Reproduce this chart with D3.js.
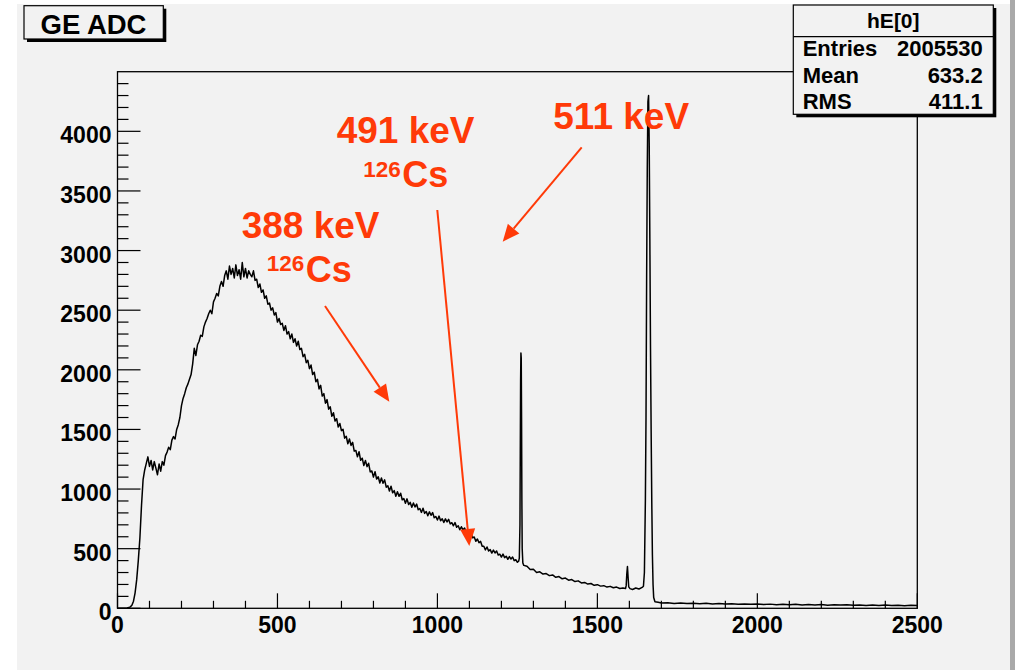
<!DOCTYPE html>
<html><head><meta charset="utf-8">
<script src="https://cdn.jsdelivr.net/npm/d3@7"></script>
<style>
body{margin:0;background:#fff;}
text{font-family:"Liberation Sans",Arial,Helvetica,sans-serif;font-weight:bold;}
</style></head>
<body><svg id="c" width="1015" height="670"></svg>
<script>
// ---- data ----
const adc = [
 0,5,10,15,20,25,30,35,40,45,50,55,60,65,70,75,80,
 85,90,95,100,105,110,115,120,125,130,135,140,145,150,155,160,165,170,175,180,185,190,195,200,
 205,210,215,220,225,230,235,240,245,250,255,260,265,270,275,280,285,290,295,300,
 305,310,315,320,325,330,335,340,345,350,355,360,365,370,375,380,385,390,395,400,
 405,410,415,420,425,430,435,440,445,450,455,460,465,470,475,480,485,490,495,500,
 505,510,515,520,525,530,535,540,545,550,555,560,565,570,575,580,585,590,595,600,
 605,610,615,620,625,630,635,640,645,650,655,660,665,670,675,680,685,690,695,700,
 705,710,715,720,725,730,735,740,745,750,755,760,765,770,775,780,785,790,795,800,
 805,810,815,820,825,830,835,840,845,850,855,860,865,870,875,880,885,890,895,900,
 905,910,915,920,925,930,935,940,945,950,955,960,965,970,975,980,985,990,995,1000,
 1005,1010,1015,1020,1025,1030,1035,1040,1045,1050,1055,1060,1065,1070,1075,1080,1085,1090,1095,1100,
 1105,1110,1115,1120,1125,1130,1135,1140,1145,1150,1155,1160,1165,1170,1175,1180,1185,1190,1195,1200,
 1205,1210,1215,1220,1225,1230,1235,1240,1245,1250,
 1254,1256,1258,1259,1260,1261,1262,1263,1264,1265,1267,1270,
 1280,1290,1300,1310,1320,1330,1340,1350,1360,1370,1380,1390,1400,1410,1420,1430,1440,1450,
 1460,1470,1480,1490,1500,1510,1520,1530,1540,1550,1560,1570,1580,1588,1590,1592,1594,1596,1598,
 1602,1610,1620,1630,1640,1644,1647,1650,1652,1654,1656,1658,1660,1662,1664,1666,1668,1670,
 1672,1674,1676,1680,1690,1700,1720,1740,1760,1780,1800,1820,1840,1860,1880,1900,1920,1940,
 1960,1980,2000,2020,2040,2060,2080,2100,2120,2140,2160,2180,2200,2220,2240,2260,2280,2300,
 2320,2340,2360,2380,2400,2420,2440,2460,2480,2500
];
const counts = [
 0,0,0,0,0,1,3,6,12,25,60,130,240,400,590,860,1080,
 1160,1215,1270,1190,1240,1160,1230,1175,1120,1210,1150,1230,1200,1280,1310,1350,1330,1410,1440,1420,1500,1540,1600,1700,
 1760,1800,1850,1880,1920,1960,2050,2180,2120,2210,2240,2290,2280,2360,2400,2430,2470,2500,2470,2570,
 2600,2640,2620,2700,2740,2700,2790,2830,2760,2870,2800,2850,2770,2880,2790,2840,2760,2900,2780,2850,
 2770,2830,2800,2780,2830,2750,2760,2690,2720,2650,2670,2600,2620,2550,2560,2500,2520,2460,2480,2400,
 2430,2380,2390,2330,2370,2300,2320,2260,2300,2230,2260,2200,2240,2170,2180,2110,2130,2060,2080,2010,
 2040,1960,1980,1900,1920,1840,1870,1780,1800,1720,1750,1670,1690,1610,1640,1570,1590,1520,1550,1490,
 1501,1427,1443,1379,1420,1366,1392,1318,1324,1270,1313,1241,1259,1197,1240,1188,1216,1144,1152,1100,
 1145,1084,1103,1051,1092,1049,1077,1016,1027,983,1024,969,987,940,978,939,965,910,920,881,
 918,871,888,848,883,850,874,827,837,804,839,796,812,776,809,780,803,760,770,740,
 773,735,751,719,750,724,746,708,718,692,719,680,692,659,684,656,673,635,641,613,
 633,592,598,562,581,550,561,520,521,490,514,480,492,463,488,464,481,447,454,430,
 455,425,437,411,434,413,430,400,407,386,
 395,420,700,1300,1900,2140,2100,1600,900,500,380,360,
 352,325,328,300,306,287,291,274,280,260,266,247,254,236,241,224,230,213,
 217,203,208,193,198,186,190,178,184,172,178,166,171,166,190,290,350,260,180,
 165,158,170,162,175,185,300,900,1600,2800,3700,4250,4300,3900,3100,2200,1500,900,
 450,200,90,55,50,44,47,41,45,40,43,38,42,37,40,36,39,34,
 37,33,36,31,35,30,34,29,33,28,32,28,31,26,30,27,29,25,
 28,24,28,23,27,24,26,22,25,23
];
const xTicks = [0,500,1000,1500,2000,2500];
const yTicks = [0,500,1000,1500,2000,2500,3000,3500,4000];
const statNames = ["Entries","Mean","RMS"];
const statValues = ["2005530","633.2","411.1"];
const notes = [
 {label:"511 keV", iso:null},
 {label:"491 keV", iso:"Cs", mass:"126"},
 {label:"388 keV", iso:"Cs", mass:"126"}
];

// ---- drawing ----
const svg = d3.select("#c");
const RED = "#ff3a08";
svg.append("rect").attr("x",17).attr("y",4).attr("width",993).attr("height",666).attr("fill","#f2f2f2");
svg.append("rect").attr("x",1010).attr("y",0).attr("width",5).attr("height",670).attr("fill","#a9a9a9");

const x = d3.scaleLinear().domain([0,2500]).range([117.5,917.3]);
const y = d3.scaleLinear().domain([0,4500]).range([608.3,71.7]);

// frame
svg.append("rect").attr("x",x(0)).attr("y",y(4500)).attr("width",x(2500)-x(0)).attr("height",y(0)-y(4500))
  .attr("fill","none").attr("stroke","#000").attr("stroke-width",1.3);

// y ticks
const yMinor = d3.range(0,4500,100);
svg.append("g").selectAll("line").data(yMinor).join("line")
  .attr("x1",x(0)).attr("x2",d=>x(0)+(d%500===0?23:11))
  .attr("y1",d=>y(d)).attr("y2",d=>y(d)).attr("stroke","#000").attr("stroke-width",1.2);
svg.append("g").selectAll("text").data(yTicks).join("text")
  .attr("x",111.5).attr("y",d=>y(d)+12).attr("text-anchor","end").attr("font-size",23).text(d=>d);

// x ticks
const xMinor = d3.range(0,2501,100);
svg.append("g").selectAll("line").data(xMinor).join("line")
  .attr("x1",d=>x(d)).attr("x2",d=>x(d))
  .attr("y1",y(0)).attr("y2",d=>y(0)-(d%500===0?15:7.5)).attr("stroke","#000").attr("stroke-width",1.2);
svg.append("g").selectAll("text").data(xTicks).join("text")
  .attr("x",d=>x(d)).attr("y",633.3).attr("text-anchor","middle").attr("font-size",23).text(d=>d);

// spectrum
const pts = adc.map((a,i)=>[a,counts[i]]);
svg.append("path").datum(pts)
  .attr("d",d3.line().x(d=>x(d[0])).y(d=>y(d[1])))
  .attr("fill","none").attr("stroke","#000").attr("stroke-width",1.5).attr("stroke-linejoin","round");

// title box
svg.append("rect").attr("x",27).attr("y",8.7).attr("width",139.3).attr("height",33.3).attr("fill","#000");
svg.append("rect").attr("x",24).attr("y",5.7).attr("width",139.3).attr("height",33.3).attr("fill","#f2f2f2").attr("stroke","#000").attr("stroke-width",1.2);
svg.append("text").attr("x",93.5).attr("y",34.3).attr("text-anchor","middle").attr("font-size",27.5).text("GE ADC");

// stats box
svg.append("rect").attr("x",796.3).attr("y",8).attr("width",200).attr("height",109.3).attr("fill","#000");
svg.append("rect").attr("x",793.3).attr("y",5).attr("width",200).attr("height",109.3).attr("fill","#f2f2f2").attr("stroke","#000").attr("stroke-width",1.2);
svg.append("line").attr("x1",793.3).attr("x2",993.3).attr("y1",36.7).attr("y2",36.7).attr("stroke","#000").attr("stroke-width",1.2);
svg.append("text").attr("x",893.3).attr("y",27.5).attr("text-anchor","middle").attr("font-size",21).text("hE[0]");
statNames.forEach((n,i)=>{
  svg.append("text").attr("x",802.7).attr("y",55.7+i*26.8).attr("font-size",22).text(n);
  svg.append("text").attr("x",982.7).attr("y",55.7+i*26.8).attr("text-anchor","end").attr("font-size",22).text(statValues[i]);
});

// annotations
const notePos = [
 {x:553.3,y:128.5},
 {x:336.7,y:143.3, ix:363.3, iy:187.3},
 {x:241.7,y:238.3, ix:266.7, iy:281.7}
];
notes.forEach((n,i)=>{
  const p = notePos[i];
  svg.append("text").attr("x",p.x).attr("y",p.y).attr("font-size",37).attr("fill",RED).text(n.label);
  if(n.iso){
    const t = svg.append("text").attr("x",p.ix).attr("y",p.iy).attr("fill",RED);
    t.append("tspan").attr("font-size",22.5).attr("dy",-10.5).text(n.mass);
    t.append("tspan").attr("font-size",36).attr("dy",10.5).attr("dx",1.5).text(n.iso);
  }
});
const arrows = [
 {x1:581.7,y1:147.4,x2:502.7,y2:241.7},
 {x1:437.3,y1:210,x2:469.3,y2:546},
 {x1:325,y1:306,x2:389.3,y2:401.7}
];
arrows.forEach(a=>{
  const ang = Math.atan2(a.y2-a.y1,a.x2-a.x1);
  const L=17, W=7.5;
  const bx=a.x2-L*Math.cos(ang), by=a.y2-L*Math.sin(ang);
  svg.append("line").attr("x1",a.x1).attr("y1",a.y1).attr("x2",bx).attr("y2",by).attr("stroke",RED).attr("stroke-width",2);
  const px=-Math.sin(ang)*W, py=Math.cos(ang)*W;
  svg.append("path").attr("d",`M${a.x2},${a.y2}L${bx+px},${by+py}L${bx-px},${by-py}Z`).attr("fill",RED);
});
</script></body></html>
